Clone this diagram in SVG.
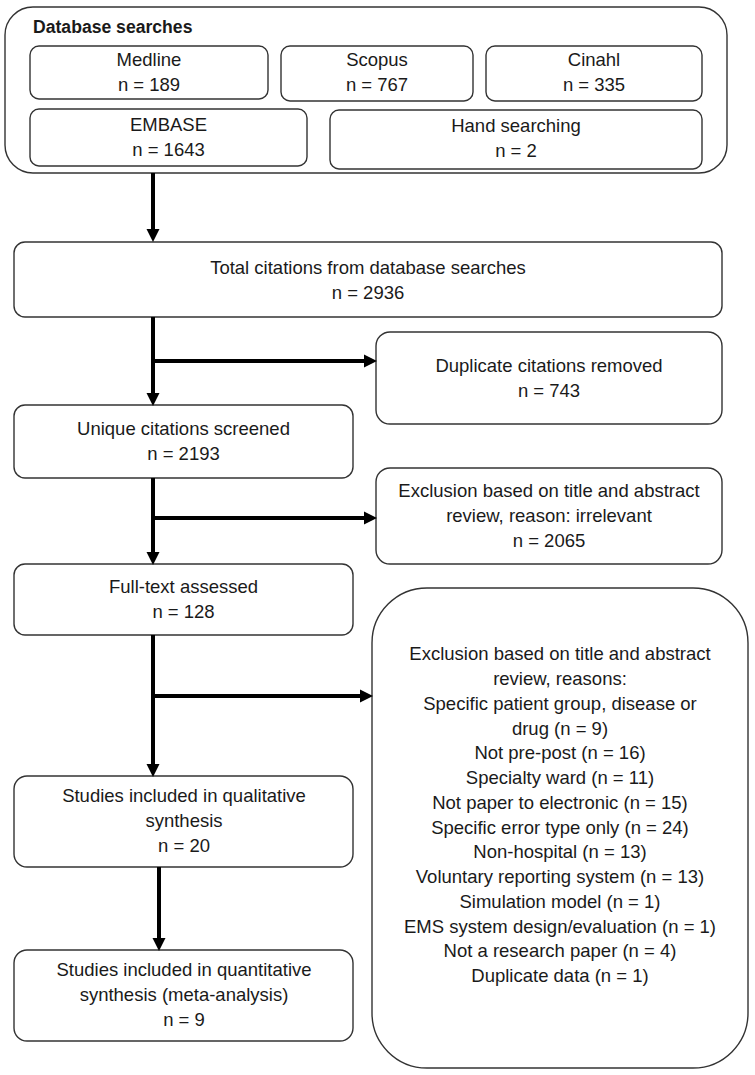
<svg xmlns="http://www.w3.org/2000/svg" width="755" height="1075" viewBox="0 0 755 1075">
<style>
.box{fill:#fff;stroke:#333;stroke-width:1.4}
text{font-family:"Liberation Sans",Arial,sans-serif;font-size:18.5px;fill:#1a1a1a;text-anchor:middle}
.title{font-weight:bold;font-size:17.6px;text-anchor:start}
.conn{fill:none;stroke:#000;stroke-width:4}
</style>
<defs>
<marker id="ah" markerUnits="userSpaceOnUse" markerWidth="14" markerHeight="14" refX="6" refY="7" orient="auto">
<path d="M0,0.5 L13,7 L0,13.5 z" fill="#000"/>
</marker>
</defs>
<rect width="755" height="1075" fill="#fff"/>
<g id="database-searches">
<rect class="box" x="5" y="7" width="722" height="166" rx="28"/>
<text class="title" x="33" y="33">Database searches</text>
</g>
<g id="medline">
<rect class="box" x="30" y="46" width="238" height="53" rx="9"/>
<text x="149" y="66">Medline</text>
<text x="149" y="91">n = 189</text>
</g>
<g id="scopus">
<rect class="box" x="281" y="46" width="192" height="55" rx="9"/>
<text x="377" y="66">Scopus</text>
<text x="377" y="91">n = 767</text>
</g>
<g id="cinahl">
<rect class="box" x="486" y="46" width="216" height="55" rx="9"/>
<text x="594" y="66">Cinahl</text>
<text x="594" y="91">n = 335</text>
</g>
<g id="embase">
<rect class="box" x="30" y="109" width="277" height="57" rx="9"/>
<text x="168.5" y="131">EMBASE</text>
<text x="168.5" y="156">n = 1643</text>
</g>
<g id="hand-searching">
<rect class="box" x="330" y="110" width="372" height="59" rx="9"/>
<text x="516" y="132">Hand searching</text>
<text x="516" y="157">n = 2</text>
</g>
<g id="total">
<rect class="box" x="14" y="242" width="708" height="75" rx="11"/>
<text x="368" y="274">Total citations from database searches</text>
<text x="368" y="299">n = 2936</text>
</g>
<g id="duplicates">
<rect class="box" x="376" y="332" width="346" height="92" rx="14"/>
<text x="549" y="372">Duplicate citations removed</text>
<text x="549" y="397">n = 743</text>
</g>
<g id="unique">
<rect class="box" x="14" y="405" width="339" height="73" rx="11"/>
<text x="183.5" y="435">Unique citations screened</text>
<text x="183.5" y="460">n = 2193</text>
</g>
<g id="exclusion-title">
<rect class="box" x="376" y="468" width="346" height="96" rx="14"/>
<text x="549" y="497">Exclusion based on title and abstract</text>
<text x="549" y="522">review, reason: irrelevant</text>
<text x="549" y="547">n = 2065</text>
</g>
<g id="fulltext">
<rect class="box" x="14" y="564" width="339" height="71" rx="11"/>
<text x="183.5" y="593">Full-text assessed</text>
<text x="183.5" y="618">n = 128</text>
</g>
<g id="exclusion-fulltext">
<rect class="box" x="372" y="588" width="376" height="480" rx="55"/>
<text x="560" y="660">Exclusion based on title and abstract</text>
<text x="560" y="685">review, reasons:</text>
<text x="560" y="710">Specific patient group, disease or</text>
<text x="560" y="735">drug (n = 9)</text>
<text x="560" y="759">Not pre-post (n = 16)</text>
<text x="560" y="784">Specialty ward (n = 11)</text>
<text x="560" y="809">Not paper to electronic (n = 15)</text>
<text x="560" y="834">Specific error type only (n = 24)</text>
<text x="560" y="858">Non-hospital (n = 13)</text>
<text x="560" y="883">Voluntary reporting system (n = 13)</text>
<text x="560" y="908">Simulation model (n = 1)</text>
<text x="560" y="933">EMS system design/evaluation (n = 1)</text>
<text x="560" y="957">Not a research paper (n = 4)</text>
<text x="560" y="982">Duplicate data (n = 1)</text>
</g>
<g id="qualitative">
<rect class="box" x="14" y="776" width="339" height="91" rx="13"/>
<text x="184" y="802">Studies included in qualitative</text>
<text x="184" y="827">synthesis</text>
<text x="184" y="852">n = 20</text>
</g>
<g id="quantitative">
<rect class="box" x="14" y="950" width="339" height="91" rx="13"/>
<text x="184" y="976">Studies included in quantitative</text>
<text x="184" y="1001">synthesis (meta-analysis)</text>
<text x="184" y="1026">n = 9</text>
</g>
<g id="connectors">
<path class="conn" d="M153,173 V235" marker-end="url(#ah)"/>
<path class="conn" d="M153,317 V399" marker-end="url(#ah)"/>
<path class="conn" d="M153,361 H370" marker-end="url(#ah)"/>
<path class="conn" d="M153,478 V558" marker-end="url(#ah)"/>
<path class="conn" d="M153,518 H370" marker-end="url(#ah)"/>
<path class="conn" d="M153,635 V770" marker-end="url(#ah)"/>
<path class="conn" d="M153,696 H366" marker-end="url(#ah)"/>
<path class="conn" d="M159,867 V944" marker-end="url(#ah)"/>
</g>
</svg>
